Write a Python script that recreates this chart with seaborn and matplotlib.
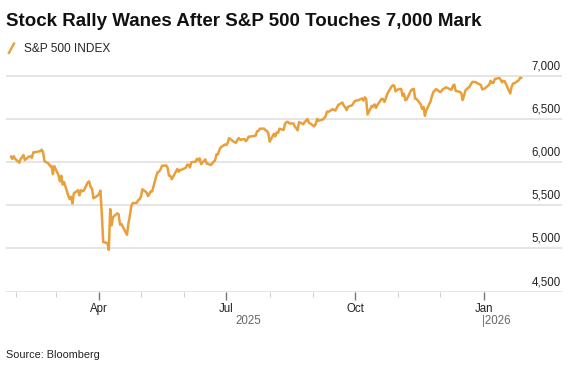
import pandas as pd
import matplotlib.pyplot as plt
import seaborn as sns
from matplotlib.lines import Line2D
from matplotlib.legend_handler import HandlerBase
from matplotlib.ticker import FuncFormatter
from matplotlib.transforms import ScaledTranslation

# S&P 500 daily closes, Jan 2025 - Jan 2026
dates = [
    "2025-01-28", "2025-01-29", "2025-01-30", "2025-01-31", "2025-02-03", "2025-02-04", "2025-02-05", "2025-02-06",
    "2025-02-07", "2025-02-10", "2025-02-11", "2025-02-12", "2025-02-13", "2025-02-14", "2025-02-18", "2025-02-19",
    "2025-02-20", "2025-02-21", "2025-02-24", "2025-02-25", "2025-02-26", "2025-02-27", "2025-02-28", "2025-03-03",
    "2025-03-04", "2025-03-05", "2025-03-06", "2025-03-07", "2025-03-10", "2025-03-11", "2025-03-12", "2025-03-13",
    "2025-03-14", "2025-03-17", "2025-03-18", "2025-03-19", "2025-03-20", "2025-03-21", "2025-03-24", "2025-03-25",
    "2025-03-26", "2025-03-27", "2025-03-28", "2025-03-31", "2025-04-01", "2025-04-02", "2025-04-03", "2025-04-04",
    "2025-04-07", "2025-04-08", "2025-04-09", "2025-04-10", "2025-04-11", "2025-04-14", "2025-04-15", "2025-04-16",
    "2025-04-17", "2025-04-21", "2025-04-22", "2025-04-23", "2025-04-24", "2025-04-25", "2025-04-28", "2025-04-29",
    "2025-04-30", "2025-05-01", "2025-05-02", "2025-05-05", "2025-05-06", "2025-05-07", "2025-05-08", "2025-05-09",
    "2025-05-12", "2025-05-13", "2025-05-14", "2025-05-15", "2025-05-16", "2025-05-19", "2025-05-20", "2025-05-21",
    "2025-05-22", "2025-05-23", "2025-05-27", "2025-05-28", "2025-05-29", "2025-05-30", "2025-06-02", "2025-06-03",
    "2025-06-04", "2025-06-05", "2025-06-06", "2025-06-09", "2025-06-10", "2025-06-11", "2025-06-12", "2025-06-13",
    "2025-06-16", "2025-06-17", "2025-06-18", "2025-06-20", "2025-06-23", "2025-06-24", "2025-06-25", "2025-06-26",
    "2025-06-27", "2025-06-30", "2025-07-01", "2025-07-02", "2025-07-03", "2025-07-07", "2025-07-08", "2025-07-09",
    "2025-07-10", "2025-07-11", "2025-07-14", "2025-07-15", "2025-07-16", "2025-07-17", "2025-07-18", "2025-07-21",
    "2025-07-22", "2025-07-23", "2025-07-24", "2025-07-25", "2025-07-28", "2025-07-29", "2025-07-30", "2025-07-31",
    "2025-08-01", "2025-08-04", "2025-08-05", "2025-08-06", "2025-08-07", "2025-08-08", "2025-08-11", "2025-08-12",
    "2025-08-13", "2025-08-14", "2025-08-15", "2025-08-18", "2025-08-19", "2025-08-20", "2025-08-21", "2025-08-22",
    "2025-08-25", "2025-08-26", "2025-08-27", "2025-08-28", "2025-08-29", "2025-09-02", "2025-09-03", "2025-09-04",
    "2025-09-05", "2025-09-08", "2025-09-09", "2025-09-10", "2025-09-11", "2025-09-12", "2025-09-15", "2025-09-16",
    "2025-09-17", "2025-09-18", "2025-09-19", "2025-09-22", "2025-09-23", "2025-09-24", "2025-09-25", "2025-09-26",
    "2025-09-29", "2025-09-30", "2025-10-01", "2025-10-02", "2025-10-03", "2025-10-06", "2025-10-07", "2025-10-08",
    "2025-10-09", "2025-10-10", "2025-10-13", "2025-10-14", "2025-10-15", "2025-10-16", "2025-10-17", "2025-10-20",
    "2025-10-21", "2025-10-22", "2025-10-23", "2025-10-24", "2025-10-27", "2025-10-28", "2025-10-29", "2025-10-30",
    "2025-10-31", "2025-11-03", "2025-11-04", "2025-11-05", "2025-11-06", "2025-11-07", "2025-11-10", "2025-11-11",
    "2025-11-12", "2025-11-13", "2025-11-14", "2025-11-17", "2025-11-18", "2025-11-19", "2025-11-20", "2025-11-21",
    "2025-11-24", "2025-11-25", "2025-11-26", "2025-11-28", "2025-12-01", "2025-12-02", "2025-12-03", "2025-12-04",
    "2025-12-05", "2025-12-08", "2025-12-09", "2025-12-10", "2025-12-11", "2025-12-12", "2025-12-15", "2025-12-16",
    "2025-12-17", "2025-12-18", "2025-12-19", "2025-12-22", "2025-12-23", "2025-12-24", "2025-12-26", "2025-12-29",
    "2025-12-30", "2025-12-31", "2026-01-02", "2026-01-05", "2026-01-06", "2026-01-07", "2026-01-08", "2026-01-09",
    "2026-01-12", "2026-01-13", "2026-01-14", "2026-01-15", "2026-01-16", "2026-01-20", "2026-01-21", "2026-01-22",
    "2026-01-23", "2026-01-26", "2026-01-27", "2026-01-28",
]
closes = [
    6067, 6039, 6071, 6040, 5994, 6037, 6061, 6083,
    6026, 6066, 6068, 6052, 6115, 6115, 6129, 6144,
    6118, 6013, 5983, 5955, 5956, 5861, 5955, 5850,
    5778, 5843, 5739, 5770, 5614, 5572, 5599, 5522,
    5639, 5675, 5615, 5675, 5663, 5668, 5768, 5777,
    5712, 5693, 5581, 5612, 5633, 5671, 5397, 5074,
    5062, 4983, 5457, 5268, 5363, 5406, 5397, 5276,
    5283, 5158, 5288, 5376, 5485, 5525, 5529, 5561,
    5569, 5604, 5686, 5650, 5607, 5631, 5664, 5660,
    5844, 5886, 5892, 5917, 5958, 5963, 5940, 5845,
    5842, 5802, 5922, 5889, 5912, 5912, 5936, 5970,
    5971, 5939, 6000, 6006, 6039, 6022, 6045, 5977,
    6033, 5983, 5981, 5967, 6025, 6092, 6092, 6141,
    6173, 6205, 6198, 6227, 6279, 6230, 6226, 6263,
    6280, 6260, 6269, 6244, 6264, 6297, 6297, 6306,
    6309, 6359, 6363, 6389, 6390, 6371, 6362, 6339,
    6238, 6330, 6299, 6345, 6340, 6389, 6374, 6446,
    6466, 6469, 6450, 6449, 6412, 6396, 6370, 6467,
    6440, 6466, 6481, 6502, 6460, 6416, 6448, 6502,
    6482, 6495, 6512, 6532, 6587, 6584, 6615, 6607,
    6600, 6631, 6664, 6693, 6656, 6638, 6605, 6644,
    6661, 6688, 6711, 6715, 6716, 6740, 6715, 6753,
    6735, 6553, 6655, 6644, 6671, 6630, 6664, 6735,
    6735, 6699, 6738, 6791, 6875, 6891, 6890, 6822,
    6840, 6852, 6771, 6796, 6720, 6728, 6832, 6846,
    6851, 6737, 6734, 6672, 6617, 6642, 6538, 6603,
    6705, 6766, 6813, 6849, 6813, 6829, 6850, 6857,
    6870, 6846, 6840, 6887, 6901, 6827, 6816, 6800,
    6721, 6775, 6835, 6878, 6910, 6932, 6930, 6905,
    6896, 6845, 6858, 6902, 6944, 6921, 6921, 6966,
    6977, 6964, 6927, 6944, 6940, 6797, 6876, 6913,
    6916, 6950, 6979, 6978,
]
y_ticks = [4500, 5000, 5500, 6000, 6500, 7000]
quarter_ticks = ["2025-04-01", "2025-07-01", "2025-10-01", "2026-01-01"]
quarter_labels = ["Apr", "Jul", "Oct", "Jan"]

series_name = "S&P 500 INDEX"
line_color = "#E9A03B"

df = pd.DataFrame({"date": pd.to_datetime(dates), "close": closes})

sns.set_style("white")
plt.rcParams["font.family"] = ["Liberation Sans", "DejaVu Sans"]


class SlashHandler(HandlerBase):
    # legend key drawn as a short diagonal stroke
    def create_artists(self, legend, orig_handle, xdescent, ydescent, width, height, fontsize, trans):
        x0, y0 = -xdescent, -ydescent
        line = Line2D([x0 + width * 0.15, x0 + width * 0.85], [y0 - height * 0.15, y0 + height * 1.0],
                      color=orig_handle.get_color(), lw=1.7, solid_capstyle="butt", transform=trans)
        return [line]


fig = plt.figure(figsize=(5.78, 3.77), dpi=100)
ax = fig.add_axes([6 / 578, 1 - 291.5 / 377, 556 / 578, (291.5 - 67.4) / 377])

sns.lineplot(data=df, x="date", y="close", ax=ax, color=line_color, linewidth=1.8, label=series_name)

ax.set_xlim(pd.Timestamp("2025-01-24 12:00"), pd.Timestamp("2026-02-26"))
ax.set_ylim(4500, 7100)

# grid lines
for v in y_ticks:
    ax.axhline(v, color="#DEDEDE", lw=1.1, zorder=0)

for side in ["top", "right", "left", "bottom"]:
    ax.spines[side].set_visible(False)

# y labels sit above the grid lines on the right edge
ax.yaxis.tick_right()
ax.set_yticks(y_ticks)
ax.yaxis.set_major_formatter(FuncFormatter(lambda v, p: f"{v:,.0f}"))
ax.tick_params(axis="y", length=0, pad=-1, labelsize=8.3, labelcolor="#222222")
for lab in ax.get_yticklabels():
    lab.set_horizontalalignment("right")
    lab.set_verticalalignment("bottom")
    lab.set_transform(lab.get_transform() + ScaledTranslation(0, 2.5 / 72, fig.dpi_scale_trans))

# x axis: quarters major, months minor (none after Jan 2026)
month_ticks = pd.date_range("2025-02-01", "2025-12-01", freq="MS")
ax.set_xticks(month_ticks, minor=True)
ax.set_xticks(pd.to_datetime(quarter_ticks))
ax.set_xticklabels(quarter_labels)
ax.tick_params(axis="x", which="both", bottom=True, direction="out")
ax.tick_params(axis="x", which="major", length=6, width=1, color="#777777", pad=2,
               labelsize=8.3, labelcolor="#222222")
ax.tick_params(axis="x", which="minor", length=3.5, width=0.8, color="#D0D0D0")
ax.set_xlabel("")
ax.set_ylabel("")

# year labels under the month labels
ax.annotate("2025", xy=(pd.Timestamp("2025-07-17"), 0), xycoords=("data", "axes fraction"),
            xytext=(0, -21), textcoords="offset points", ha="center", va="center",
            fontsize=8.3, color="#666666")
ax.annotate("|2026", xy=(pd.Timestamp("2026-01-01"), 0), xycoords=("data", "axes fraction"),
            xytext=(-1.3, -21), textcoords="offset points", ha="left", va="center",
            fontsize=8.3, color="#666666")

# legend with slash key
handle = ax.get_lines()[0]
ax.legend([handle], [series_name], handler_map={Line2D: SlashHandler()},
          loc="center left", bbox_to_anchor=(7 / 578, 1 - 48.5 / 377), bbox_transform=fig.transFigure,
          frameon=False, fontsize=8.6, handlelength=0.75, handleheight=0.9, handletextpad=0.7,
          borderpad=0, borderaxespad=0)

fig.text(6 / 578, 1 - 26 / 377, "Stock Rally Wanes After S&P 500 Touches 7,000 Mark",
         fontsize=13.5, fontweight="bold", color="#111111", ha="left", va="baseline")
fig.text(6 / 578, 1 - 355 / 377, "Source: Bloomberg", fontsize=7.8, color="#222222",
         ha="left", va="center")

fig.savefig("out.png", dpi=100)
